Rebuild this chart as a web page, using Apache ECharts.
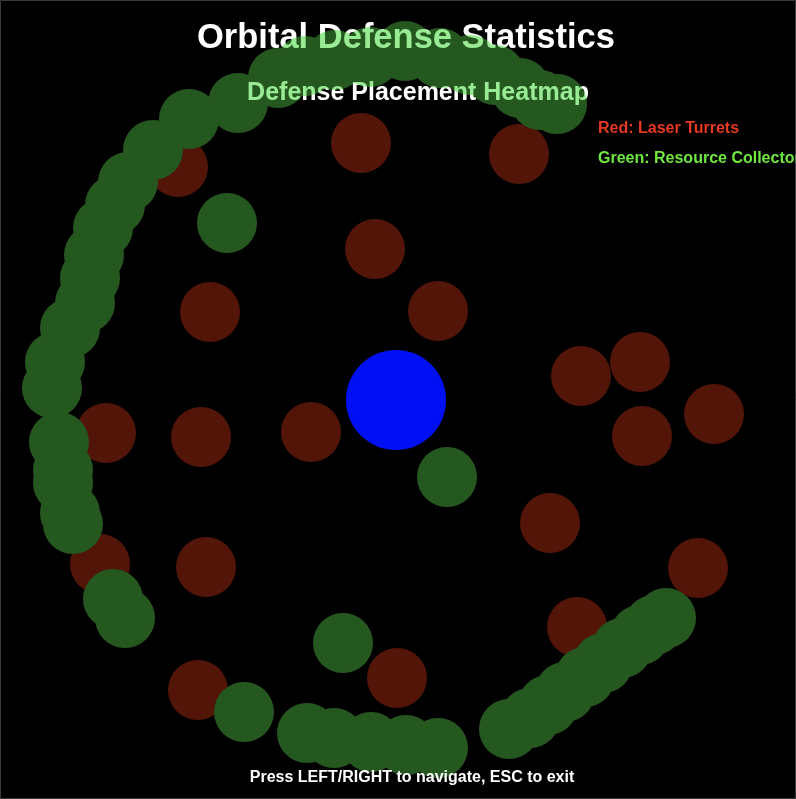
<!DOCTYPE html>
<html>
<head>
<meta charset="utf-8">
<script src="https://cdn.jsdelivr.net/npm/echarts@6/dist/echarts.min.js"></script>
<style>html,body{margin:0;padding:0;background:#000;}#c{width:796px;height:799px;}</style>
</head>
<body>
<div id="c"></div>
<script>
// Laser turret positions (x, y) in screen-space units
const turretPoints = [
  [361,143],[519,154],[178,167],[375,249],[210,312],[438,311],
  [581,376],[640,362],[714,414],[642,436],[106,433],[201,437],
  [311,432],[550,523],[698,568],[100,564],[206,567],[577,627],
  [198,690],[397,678]
];
// Resource collector positions
const collectorPoints = [
  // isolated
  [227,223],[447,477],[343,643],[244,712],
  // top arc
  [238,103],[278,78],[305,66],[335,60],[370,57],[405,51],[440,58],
  [470,65],[495,75],[520,88],[540,100],[557,104],
  // left arc
  [189,119],[153,150],[128,182],[115,205],[103,228],[94,255],[90,278],
  [85,303],[70,328],[55,362],[52,388],[59,442],[63,470],[63,483],
  [70,513],[73,524],[113,599],[125,618],
  // bottom arc
  [307,733],[334,738],[371,742],[406,745],[438,748],
  // right arc
  [509,729],[530,718],[548,705],[565,692],[585,677],[603,663],
  [622,648],[640,635],[654,625],[666,618]
];
// Planet core
const corePoint = [[396,400]];

const titleText = 'Orbital Defense Statistics';
const subtitleText = 'Defense Placement Heatmap';
const legendTexts = ['Red: Laser Turrets', 'Green: Resource Collectors'];
const footerText = 'Press LEFT/RIGHT to navigate, ESC to exit';

const FONT = '"Liberation Sans", Arial, sans-serif';
function txt(text, x, y, size, color, z, align) {
  return { type: 'text', z: z, silent: true, style: {
    text: text, x: x, y: y, fill: color,
    font: 'bold ' + size + 'px ' + FONT,
    textAlign: align || 'center', textVerticalAlign: 'middle'
  }};
}

const R = 30;
const chart = echarts.init(document.getElementById('c'), null, {renderer: 'canvas'});
chart.setOption({
  backgroundColor: '#000',
  animation: false,
  grid: {left: 0, right: 0, top: 0, bottom: 0},
  xAxis: {type: 'value', min: 0, max: 796, show: false},
  yAxis: {type: 'value', min: 0, max: 799, inverse: true, show: false},
  graphic: [
    {type: 'rect', z: 300, silent: true, shape: {x: 0.5, y: 0.5, width: 795, height: 798},
     style: {fill: 'none', stroke: '#3a3a3a', lineWidth: 1}},
    txt(titleText, 406, 38, 34.5, '#ffffff', 100),
    txt(subtitleText, 418, 93, 25, '#ffffff', 100),
    txt(legendTexts[0], 598, 129, 16, '#e8381f', 300, 'left'),
    txt(legendTexts[1], 598, 159, 16, '#6ee83f', 300, 'left'),
    txt(footerText, 412, 778, 16, '#ffffff', 300)
  ],
  series: [
    {type: 'scatter', z: 2, symbol: 'circle', symbolSize: 2 * R, data: turretPoints,
     itemStyle: {color: '#521508', opacity: 1}, silent: true},
    {type: 'scatter', z: 3, symbol: 'circle', symbolSize: 2 * R, data: collectorPoints,
     itemStyle: {color: 'rgb(57,3,53)', opacity: 1}, silent: true},
    {type: 'scatter', z: 3, symbol: 'circle', symbolSize: 100, data: corePoint,
     itemStyle: {color: '#0010f5', opacity: 1}, silent: true},
    // translucent collector layer drawn as one union path over the titles
    {type: 'custom', z: 150, silent: true, data: [[0, 0]], clip: false,
     renderItem: function (params, api) {
       let d = '';
       collectorPoints.forEach(function (pt) {
         const p = api.coord(pt);
         d += 'M' + (p[0] - R) + ' ' + p[1] +
              'A' + R + ' ' + R + ' 0 1 0 ' + (p[0] + R) + ' ' + p[1] +
              'A' + R + ' ' + R + ' 0 1 0 ' + (p[0] - R) + ' ' + p[1] + 'Z';
       });
       return {type: 'path', shape: {pathData: d},
               style: {fill: 'rgba(10,208,0,0.42)', stroke: null}};
     }}
  ]
});
</script>
</body>
</html>
